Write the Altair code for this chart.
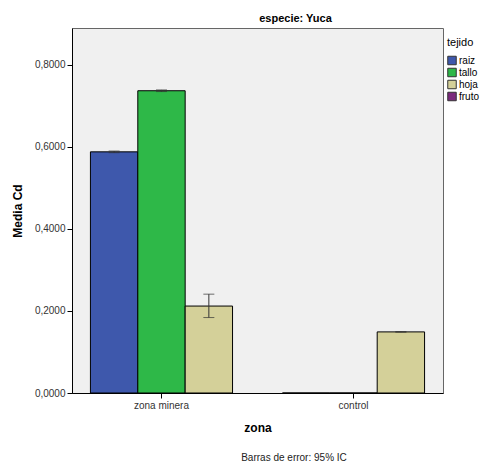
import altair as alt
import pandas as pd

# Mean Cd by zone and tissue, with 95% CI bounds
zona = ["zona minera", "zona minera", "zona minera", "control", "control", "control"]
tejido = ["raiz", "tallo", "hoja", "raiz", "tallo", "hoja"]
media = [0.588, 0.737, 0.212, 0.0, 0.0, 0.149]
ic_inf = [0.586, 0.735, 0.184, None, None, 0.1485]
ic_sup = [0.590, 0.739, 0.241, None, None, 0.1495]

zonas = ["zona minera", "control"]
tejidos = ["raiz", "tallo", "hoja", "fruto"]
colores = ["#3E58AC", "#2EB848", "#D4D099", "#7B2A7D"]
y_ticks = [0.0, 0.2, 0.4, 0.6, 0.8]

df = pd.DataFrame({"zona": zona, "tejido": tejido, "media": media,
                   "lo": ic_inf, "hi": ic_sup})
err = df.dropna()

x_enc = alt.X("zona:N", sort=zonas,
              scale=alt.Scale(domain=zonas, paddingInner=0.26, paddingOuter=0.096),
              axis=alt.Axis(title="zona", labelAngle=0, tickSize=5,
                            titleFontWeight="bold", titleFontSize=12,
                            titlePadding=12, labelPadding=2))
xo = alt.XOffset("tejido:N", sort=tejidos[:3],
                 scale=alt.Scale(domain=tejidos[:3], paddingInner=0, paddingOuter=0))
y_scale = alt.Scale(domain=[0, 0.89], nice=False)

bars = alt.Chart(df).mark_bar(stroke="black", strokeWidth=1).encode(
    x=x_enc,
    xOffset=xo,
    y=alt.Y("media:Q", scale=y_scale,
            axis=alt.Axis(title="Media Cd", values=y_ticks, grid=False, tickSize=5,
                          labelExpr="replace(format(datum.value, '.4f'), '.', ',')",
                          titleFontWeight="bold", titleFontSize=12, titlePadding=10)),
    color=alt.Color("tejido:N",
                    scale=alt.Scale(domain=tejidos, range=colores),
                    legend=alt.Legend(title="tejido", orient="none", legendX=375,
                                      legendY=9, symbolType="square", symbolSize=72,
                                      symbolStrokeColor="#333", symbolStrokeWidth=1,
                                      labelFontSize=10, titleFontSize=11,
                                      titleFontWeight="normal", rowPadding=1,
                                      clipHeight=11, labelOffset=2, titlePadding=7)),
)

rule = alt.Chart(err).mark_rule(color="#333", strokeWidth=1).encode(
    x=alt.X("zona:N", sort=zonas), xOffset=xo,
    y=alt.Y("lo:Q", scale=y_scale), y2="hi:Q")
cap_lo = alt.Chart(err).mark_tick(color="#333", size=11, thickness=1).encode(
    x=alt.X("zona:N", sort=zonas), xOffset=xo, y=alt.Y("lo:Q", scale=y_scale))
cap_hi = alt.Chart(err).mark_tick(color="#333", size=11, thickness=1).encode(
    x=alt.X("zona:N", sort=zonas), xOffset=xo, y=alt.Y("hi:Q", scale=y_scale))

nota = alt.Chart(pd.DataFrame({"t": ["Barras de error: 95% IC"]})).mark_text(
    fontSize=10, color="#222", font="Liberation Sans"
).encode(text="t:N", x=alt.value(222), y=alt.value(430))

chart = alt.layer(bars, rule, cap_lo, cap_hi, nota).properties(
    width=371, height=365,
    title=alt.TitleParams("especie: Yuca", fontSize=11, fontWeight="bold",
                          anchor="middle", dx=38, offset=4, color="#000"),
    autosize=alt.AutoSizeParams(type="none"),
    padding={"left": 72, "top": 28, "right": 38, "bottom": 70},
).configure_view(
    fill="#F0F0F0", stroke="#666", strokeWidth=1
).configure_axis(
    domainColor="black", tickColor="black", labelColor="#333", titleColor="black",
    labelFont="Liberation Sans", titleFont="Liberation Sans", labelFontSize=10
).configure_legend(
    labelFont="Liberation Sans", titleFont="Liberation Sans", labelColor="#000"
).configure_title(font="Liberation Sans")

chart.save("out.html", embed_options={"renderer": "svg", "actions": False})
